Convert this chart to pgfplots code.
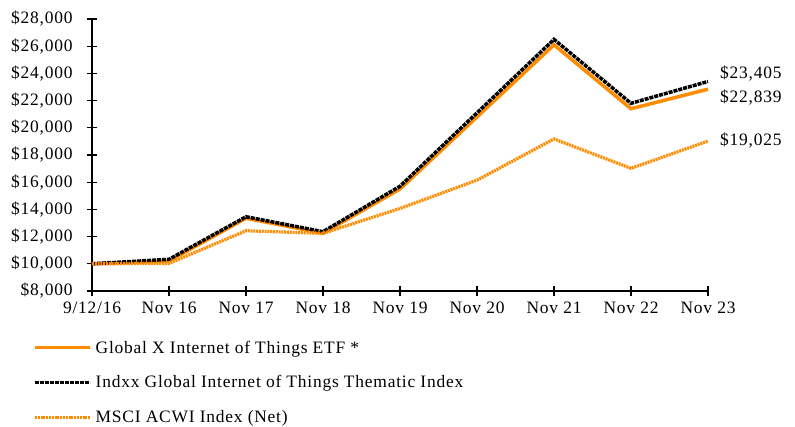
\documentclass[border=0pt]{standalone}
\usepackage{pgfplots}
\pgfplotsset{compat=1.18}
\usepackage{fontspec}
\setmainfont[LetterSpace=4.5]{Liberation Serif}
\definecolor{etforange}{RGB}{255,140,0}
\begin{document}
\begin{tikzpicture}[x=1bp,y=1bp]
\useasboundingbox (0,0) rectangle (795,426);
\begin{axis}[
  at={(92bp,135bp)}, anchor=south west,
  scale only axis, width=616bp, height=272bp,
  xmin=0, xmax=8, ymin=8000, ymax=28000,
  axis lines=left, axis line style={-, line width=1.2bp},
  xtick={0,1,2,3,4,5,6,7,8},
  xticklabels={9/12/16,Nov 16,Nov 17,Nov 18,Nov 19,Nov 20,Nov 21,Nov 22,Nov 23},
  ytick={8000,10000,12000,14000,16000,18000,20000,22000,24000,26000,28000},
  scaled y ticks=false,
  yticklabel={\$\pgfmathprintnumber[fixed,1000 sep={,}]{\tick}},
  /pgf/number format/.cd, 1000 sep={,}, assume math mode=true, /pgfplots/.cd,
  tick align=center, major tick length=10bp,
  tick style={black, line width=1.2bp},
  ticklabel style={font=\fontsize{17.5}{19}\selectfont},
  xticklabel style={yshift=-2bp},
  yticklabel style={xshift=-11bp},
  clip=false,
  legend style={at={(-0.0958,-0.175)}, anchor=north west, draw=none, fill=none,
    font=\fontsize{17.5}{19}\selectfont, row sep=17bp, inner sep=0pt,
    nodes={inner xsep=4bp}},
  legend cell align=left,
  legend image code/.code={\draw[#1] (0bp,0bp) -- (55bp,0bp);},
]
\addplot[color=etforange, line width=3.5bp] coordinates {
(0,10000) (1,10200) (2,13350) (3,12250) (4,15500) (5,20800) (6,26100) (7,21400) (8,22839)};
\addlegendentry{Global X Internet of Things ETF *}
\addplot[color=black, line width=3.5bp, dash pattern=on 4bp off 1bp] coordinates {
(0,10000) (1,10330) (2,13460) (3,12360) (4,15700) (5,21100) (6,26500) (7,21800) (8,23405)};
\addlegendentry{Indxx Global Internet of Things Thematic Index}
\addplot[color=etforange, line width=3.2bp, dash pattern=on 2bp off 0.8bp] coordinates {
(0,10000) (1,10030) (2,12430) (3,12240) (4,14070) (5,16150) (6,19180) (7,17020) (8,19025)};
\addlegendentry{MSCI ACWI Index (Net)}
\node[anchor=west, font=\fontsize{17.5}{19}\selectfont, inner sep=0pt] at (axis cs:8,23956) [xshift=12bp] {\$23,405};
\node[anchor=west, font=\fontsize{17.5}{19}\selectfont, inner sep=0pt] at (axis cs:8,22191) [xshift=12bp] {\$22,839};
\node[anchor=west, font=\fontsize{17.5}{19}\selectfont, inner sep=0pt] at (axis cs:8,19100) [xshift=12bp] {\$19,025};
\end{axis}
\end{tikzpicture}
\end{document}
